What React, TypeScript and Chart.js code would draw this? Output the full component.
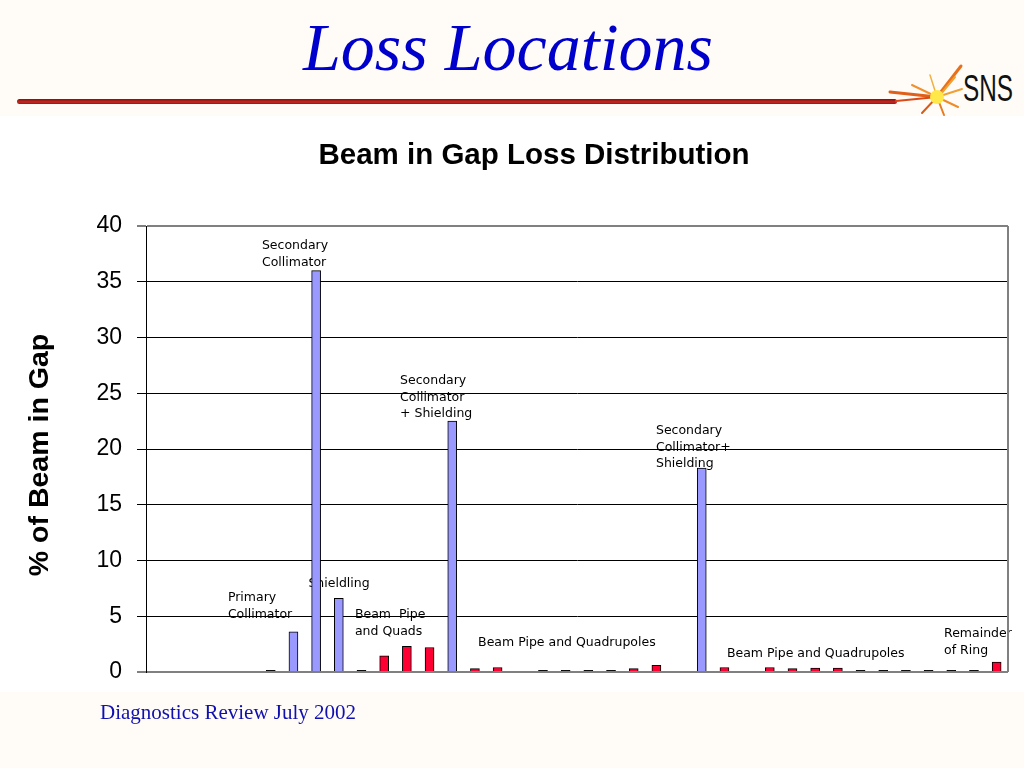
import React, { useEffect, useRef } from "react";
import { Chart, registerables } from "chart.js";

Chart.register(...registerables);

// ---- data ----
const locationSlots = [
  "1", "2", "3", "4", "5", "6", "7", "8", "9", "10",
  "11", "12", "13", "14", "15", "16", "17", "18", "19", "20",
  "21", "22", "23", "24", "25", "26", "27", "28", "29", "30",
  "31", "32", "33", "34", "35", "36", "37", "38",
];

const lossPercent = [
  null, null, null, null, null,
  0.15, 3.6, 36, 6.6, 0.15,
  1.45, 2.3, 2.2, 22.5, 0.3,
  0.4, null, 0.15, 0.15, 0.15,
  0.15, 0.3, 0.6, null, 18.3,
  0.4, null, 0.4, 0.3, 0.35,
  0.35, 0.15, 0.15, 0.15, 0.15,
  0.15, 0.15, 0.9,
];

// slots that are collimators / shielding (drawn blue); all others are beam pipe (red)
const collimatorSlots = [6, 7, 8, 13, 24];

const yTickValues = [0, 5, 10, 15, 20, 25, 30, 35, 40];

const chartTitle = "Beam in Gap Loss Distribution";
const yTitle = "% of Beam in Gap";

// annotation texts, anchored in data units (slot index, % value)
const noteLines = [
  ["Secondary", "Collimator"],
  ["Primary", "Collimator"],
  ["Shieldling"],
  ["Beam  Pipe", "and Quads"],
  ["Secondary", "Collimator", "+ Shielding"],
  ["Beam Pipe and Quadrupoles"],
  ["Secondary", "Collimator+", "Shielding"],
  ["Beam Pipe and Quadrupoles"],
  ["Remainder", "of Ring"],
];
const noteSlot = [4.61, 3.11, 6.66, 8.71, 10.7, 14.14, 21.98, 25.11, 34.68];
const noteLevel = [38.2, 6.64, 7.9, 5.1, 26.1, 2.6, 21.6, 1.6, 3.4];

const BLUE = "#9999FF";
const RED = "#FF0033";
const DARK = "#111";

const notesPlugin = {
  id: "notes",
  beforeDraw(chart: any) {
    const { ctx, scales } = chart;
    const xs = scales.x;
    const ys = scales.y;
    ctx.save();
    ctx.fillStyle = "#000";
    ctx.font = "12.5px 'DejaVu Sans'";
    ctx.textAlign = "left";
    ctx.textBaseline = "middle";
    noteLines.forEach((lines, i) => {
      const x = xs.getPixelForValue(noteSlot[i]);
      const y = ys.getPixelForValue(noteLevel[i]);
      lines.forEach((ln, k) => ctx.fillText(ln, x, y + k * 16.5));
    });
    ctx.restore();
  },
  afterDraw(chart: any) {
    const { ctx, chartArea } = chart;
    ctx.save();
    ctx.strokeStyle = "#808080";
    ctx.lineWidth = 2;
    ctx.beginPath();
    ctx.moveTo(chartArea.right, chartArea.top);
    ctx.lineTo(chartArea.right, chartArea.bottom);
    ctx.stroke();
    // chart title
    ctx.fillStyle = "#000";
    ctx.font = "bold 29.5px 'Liberation Sans', Arial";
    ctx.textAlign = "center";
    ctx.textBaseline = "middle";
    ctx.fillText(chartTitle, chartArea.left + 388, chartArea.top - 70);
    // y axis title
    ctx.translate(chartArea.left - 106, (chartArea.top + chartArea.bottom) / 2 + 6);
    ctx.rotate(-Math.PI / 2);
    ctx.font = "bold 28.5px 'Liberation Sans', Arial";
    ctx.fillText(yTitle, 0, 0);
    ctx.restore();
  },
};

function LossChart() {
  const ref = useRef<HTMLCanvasElement | null>(null);
  useEffect(() => {
    if (!ref.current) return;
    const chart = new Chart(ref.current, {
      type: "bar",
      data: {
        labels: locationSlots,
        datasets: [
          {
            data: lossPercent as any,
            backgroundColor: lossPercent.map((v, i) =>
              collimatorSlots.includes(i) ? BLUE : v !== null && v < 0.2 ? DARK : RED
            ),
            borderColor: "#000",
            borderWidth: 1,
            barThickness: 9,
          },
        ],
      },
      options: {
        animation: false,
        responsive: false,
        devicePixelRatio: 1,
        layout: { padding: { left: 0, right: 16, top: 111, bottom: 43 } },
        plugins: {
          legend: { display: false },
          tooltip: { enabled: false },
          title: { display: false },
        },
        scales: {
          x: { display: false },
          y: {
            min: 0,
            max: 40,
            afterBuildTicks: (s: any) => {
              s.ticks = yTickValues.map((v) => ({ value: v }));
            },
            afterFit: (s: any) => {
              s.width = 146;
            },
            ticks: {
              color: "#000",
              padding: 15,
              font: { family: "'Liberation Sans', Arial", size: 23 },
            },
            grid: {
              color: (c: any) =>
                c.tick && (c.tick.value === 0 || c.tick.value === 40) ? "#808080" : "#000",
              lineWidth: (c: any) =>
                c.tick && (c.tick.value === 0 || c.tick.value === 40) ? 2 : 1,
              tickColor: "#000",
              tickLength: 9,
              tickWidth: 1,
            },
            border: { display: true, color: "#000", width: 1 },
            title: { display: false },
          },
        },
      },
      plugins: [notesPlugin],
    });
    return () => chart.destroy();
  }, []);
  return (
    <canvas
      ref={ref}
      width={1024}
      height={600}
      style={{ position: "absolute", left: 0, top: 115, width: 1024, height: 600 }}
    />
  );
}

function Logo() {
  return (
    <svg
      width={164}
      height={65}
      viewBox="0 0 164 65"
      style={{ position: "absolute", left: 860, top: 55 }}
    >
      <g strokeLinecap="round">
        <line x1="77" y1="42" x2="101" y2="11" stroke="#E8701A" strokeWidth="3" />
        <line x1="80" y1="40" x2="95" y2="22" stroke="#F0A030" strokeWidth="2" />
        <line x1="77" y1="42" x2="30" y2="37" stroke="#E0601A" strokeWidth="3" />
        <line x1="77" y1="42" x2="36" y2="46" stroke="#D84A18" strokeWidth="2" />
        <line x1="77" y1="42" x2="52" y2="30" stroke="#F09030" strokeWidth="2" />
        <line x1="77" y1="42" x2="62" y2="58" stroke="#D85A18" strokeWidth="2" />
        <line x1="77" y1="42" x2="84" y2="60" stroke="#E87A20" strokeWidth="2" />
        <line x1="77" y1="42" x2="98" y2="52" stroke="#F08A28" strokeWidth="2" />
        <line x1="77" y1="42" x2="102" y2="34" stroke="#F0A030" strokeWidth="2" />
        <line x1="77" y1="42" x2="70" y2="20" stroke="#F0B040" strokeWidth="1.5" />
        <circle cx="77" cy="42" r="7" fill="#FFE84A" />
      </g>
      <text
        x="103"
        y="46"
        textLength="50"
        lengthAdjust="spacingAndGlyphs"
        style={{ font: "36px 'Liberation Sans Narrow', 'Liberation Sans', Arial", fill: "#111" }}
      >
        SNS
      </text>
    </svg>
  );
}

export default function App() {
  return (
    <div
      style={{
        position: "fixed",
        left: 0,
        top: 0,
        width: 1024,
        height: 768,
        background: "#FFFCF8",
        overflow: "hidden",
      }}
    >
      <div
        style={{
          position: "absolute",
          left: 0,
          width: 1024,
          top: 0,
          textAlign: "center",
          font: "italic 68px 'Liberation Serif', 'Times New Roman', serif",
          color: "#0000CC",
          lineHeight: "100px",
          height: 100,
        }}
      >
        <span style={{ position: "relative", left: -4, top: -3 }}>Loss Locations</span>
      </div>
      <div
        style={{
          position: "absolute",
          left: 17,
          top: 99,
          width: 880,
          height: 5,
          borderRadius: 3,
          background: "linear-gradient(#8a0c0c, #c42a22 60%, #9a1414)",
        }}
      />
      <Logo />
      <div
        style={{ position: "absolute", left: 0, top: 116, width: 1024, height: 576, background: "#fff" }}
      />
      <LossChart />
      <div
        style={{
          position: "absolute",
          left: 100,
          top: 700,
          font: "21px 'Liberation Serif', 'Times New Roman', serif",
          color: "#1010B0",
        }}
      >
        Diagnostics Review July 2002
      </div>
    </div>
  );
}
